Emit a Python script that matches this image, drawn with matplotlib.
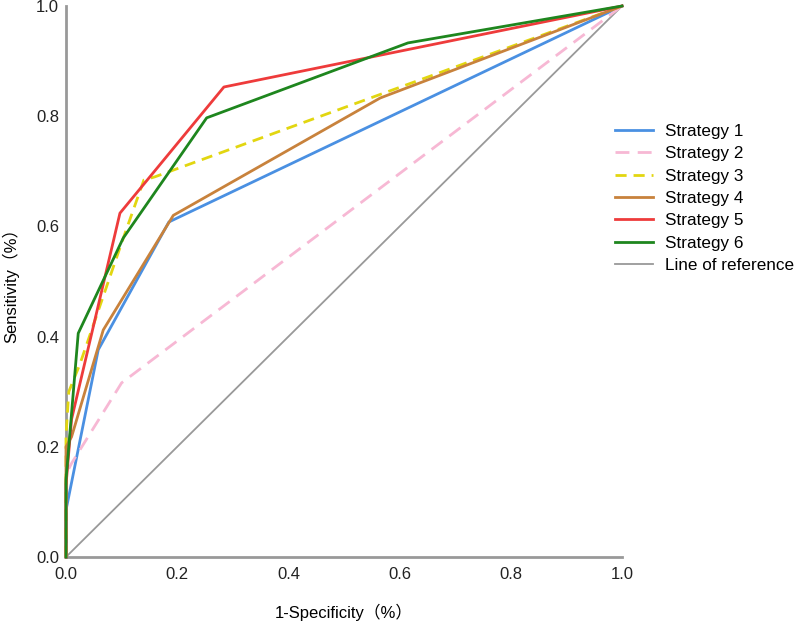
import matplotlib
matplotlib.use("Agg")
import matplotlib.pyplot as plt

labels = ["Strategy 1", "Strategy 2", "Strategy 3", "Strategy 4", "Strategy 5", "Strategy 6"]
fpr = [
    [0.0, 0.0, 0.058, 0.185, 1.0],
    [0.0, 0.0, 0.01, 0.10, 1.0],
    [0.0, 0.0, 0.005, 0.025, 0.10, 0.14, 0.16, 1.0],
    [0.0, 0.0, 0.01, 0.067, 0.193, 0.565, 1.0],
    [0.0, 0.0, 0.01, 0.097, 0.284, 1.0],
    [0.0, 0.0, 0.022, 0.103, 0.253, 0.615, 1.0],
]
tpr = [
    [0.0, 0.085, 0.376, 0.608, 1.0],
    [0.0, 0.15, 0.17, 0.316, 1.0],
    [0.0, 0.22, 0.30, 0.35, 0.57, 0.684, 0.69, 1.0],
    [0.0, 0.20, 0.218, 0.412, 0.62, 0.833, 1.0],
    [0.0, 0.13, 0.25, 0.624, 0.853, 1.0],
    [0.0, 0.14, 0.406, 0.579, 0.797, 0.933, 1.0],
]
colors = ["#4a90e2", "#f7b8d4", "#e2d610", "#c8823c", "#ee3b3b", "#1e861e"]
styles = ["-", (0, (5, 3)), (0, (4, 2.5)), "-", "-", "-"]
ref_x = [0.0, 1.0]
ref_y = [0.0, 1.0]
ticks = [0.0, 0.2, 0.4, 0.6, 0.8, 1.0]
tick_labels = ["0.0", "0.2", "0.4", "0.6", "0.8", "1.0"]

plt.rcParams['font.family'] = ['Liberation Sans', 'Noto Sans CJK SC', 'DejaVu Sans']

fig = plt.figure(figsize=(7.99, 6.25), dpi=100)
ax = fig.add_axes([0.0826, 0.1088, 0.6959, 0.8816])

for x, y, c, ls, lab in zip(fpr, tpr, colors, styles, labels):
    ax.plot(x, y, color=c, linestyle=ls, linewidth=2.0, label=lab, clip_on=False, zorder=3)
ax.plot(ref_x, ref_y, color="#999999", linewidth=1.3, label="Line of reference", zorder=2)

ax.set_xlim(0, 1)
ax.set_ylim(0, 1)
ax.set_xticks(ticks)
ax.set_xticklabels(tick_labels)
ax.set_yticks(ticks)
ax.set_yticklabels(tick_labels)
ax.tick_params(length=0, labelsize=12, colors="#222222")
ax.tick_params(axis="x", pad=7)
ax.tick_params(axis="y", pad=5)
for s in ["top", "right"]:
    ax.spines[s].set_visible(False)
for s in ["left", "bottom"]:
    ax.spines[s].set_color("#999999")
    ax.spines[s].set_linewidth(2.0)

ax.set_xlabel("1-Specificity（%）", fontsize=12, labelpad=16)
ax.set_ylabel("Sensitivity（%）", fontsize=12, labelpad=12)

leg = fig.legend(*ax.get_legend_handles_labels(), loc="upper left",
                 bbox_to_anchor=(615 / 799, 1 - 124 / 625), bbox_transform=fig.transFigure,
                 frameon=False, borderaxespad=0, borderpad=0,
                 fontsize=12.3, handlelength=2.2, labelspacing=0.43, handletextpad=0.7)

fig.savefig("out.png", dpi=100)
